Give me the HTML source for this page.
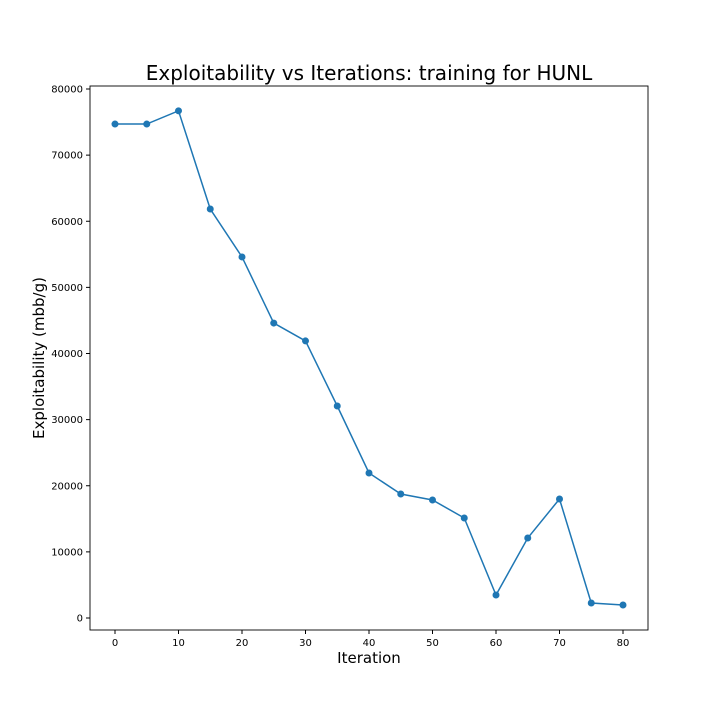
<!DOCTYPE html>
<html><head><meta charset="utf-8"><style>
body{margin:0;background:#fff;}
svg{display:block;font-family:"DejaVu Sans","Liberation Sans",sans-serif;}
</style></head><body>
<svg id="chart" width="720" height="720">
<rect width="720" height="720" fill="#fff"/>
<text x="369" y="80" text-anchor="middle" font-size="20">Exploitability vs Iterations: training for HUNL</text>
<text x="369" y="663" text-anchor="middle" font-size="15">Iteration</text>
<text transform="translate(44,358) rotate(-90)" text-anchor="middle" font-size="15">Exploitability (mbb/g)</text>
<g id="ticks"></g>
<g id="marks"></g>
<rect x="90" y="86" width="558" height="544" fill="none" stroke="#000" stroke-width="0.9"/>
</svg>
<script>
const iterations=[0,5,10,15,20,25,30,35,40,45,50,55,60,65,70,75,80];
const exploitability=[74700,74700,76700,61850,54600,44600,41900,32060,21930,18750,17850,15120,3480,12100,18000,2270,1970];
const xTicks=[0,10,20,30,40,50,60,70,80];
const yTicks=[0,10000,20000,30000,40000,50000,60000,70000,80000];
const NS="http://www.w3.org/2000/svg";
function xs(v){return 115+v*(623-115)/80;}
function ys(v){return 618-v*(618-89)/80000;}
function mk(tag,attrs,parent){const e=document.createElementNS(NS,tag);for(const k in attrs)e.setAttribute(k,attrs[k]);parent.appendChild(e);return e;}
const tg=document.getElementById('ticks'),mg=document.getElementById('marks');
xTicks.forEach(t=>{
 const l=mk('line',{x1:xs(t),x2:xs(t),y1:630,y2:634,stroke:'#000'},tg);
 
 
 const tx=mk('text',{x:xs(t),y:646,'text-anchor':'middle','font-size':10},tg);tx.textContent=t;
 
 
});
yTicks.forEach(t=>{
 const l=mk('line',{x1:86,x2:90,y1:ys(t),y2:ys(t),stroke:'#000'},tg);
 
 
 const tx=mk('text',{x:83,y:ys(t)+3.5,'text-anchor':'end','font-size':10},tg);tx.textContent=t;
 
 
});
const pts=iterations.map((v,i)=>xs(v)+','+ys(exploitability[i])).join(' ');
const pl=mk('polyline',{points:pts,fill:'none',stroke:'#1f77b4','stroke-width':1.5},mg);


iterations.forEach((v,i)=>{
 const c=mk('circle',{cx:xs(v),cy:ys(exploitability[i]),r:3.5,fill:'#1f77b4'},mg);
 
 
});
</script>
</body></html>
